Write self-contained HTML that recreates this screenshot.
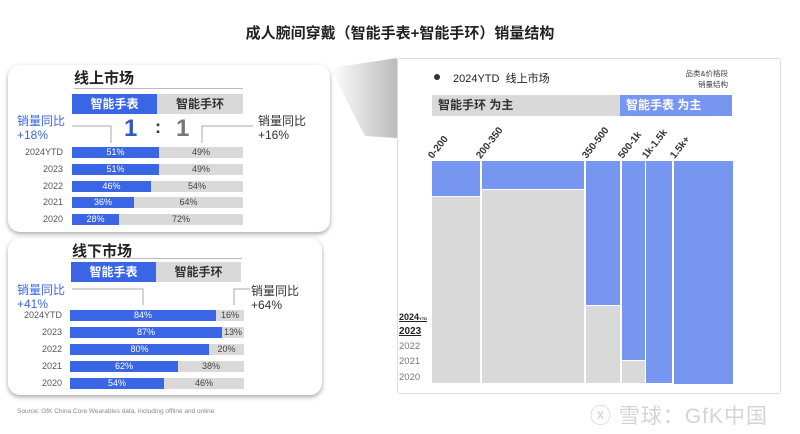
<!DOCTYPE html>
<html><head><meta charset="utf-8"><style>
*{margin:0;padding:0;box-sizing:border-box}
body{width:800px;height:434px;background:#fff;position:relative;overflow:hidden;font-family:"Liberation Sans","Noto Sans CJK SC",sans-serif;color:#333}
.a{position:absolute;white-space:nowrap}
.panel{position:absolute;background:#fff;border-radius:12px;box-shadow:0 2px 5px rgba(0,0,0,.35)}
.bar{position:absolute;height:11px;font-size:9px;line-height:11px;text-align:center}
.b{background:#3a66e6;color:#fff}
.g{background:#d9d9d9;color:#444}
.yl{position:absolute;font-size:9px;color:#555;text-align:right;width:60px}
.hd{position:absolute;font-size:12px;font-weight:bold;text-align:center;line-height:20px}
.mk{position:absolute}
.rl{position:absolute;font-size:10px;font-weight:bold;color:#333;transform:rotate(-52deg);transform-origin:left bottom}
</style></head><body>
<div class="a" style="left:0;width:800px;top:22px;text-align:center;font-size:15px;font-weight:bold;color:#222">成人腕间穿戴（智能手表+智能手环）销量结构</div>

<svg class="a" style="left:325px;top:58px" width="75" height="80"><defs><linearGradient id="gg" x1="0" x2="1"><stop offset="0" stop-color="#fff"/><stop offset="1" stop-color="#bbb"/></linearGradient></defs><polygon points="5,10 72,0 72,80 40,78" fill="url(#gg)"/></svg>

<div class="panel" style="left:8px;top:65px;width:322px;height:167px"></div>
<div class="a" style="left:74px;top:67px;font-size:15px;font-weight:bold;color:#222">线上市场</div>
<div class="a" style="left:74px;top:88px;width:169px;height:1px;background:#bbb"></div>
<div class="hd b" style="left:72px;top:94px;width:85px">智能手表</div>
<div class="hd g" style="left:157px;top:94px;width:86px;color:#333">智能手环</div>
<div class="a" style="left:124px;top:115px;font-size:24px;font-weight:bold;color:#2e58c8">1</div>
<div class="a" style="left:155px;top:117px;font-size:18px;font-weight:bold;color:#333">:</div>
<div class="a" style="left:176px;top:115px;font-size:24px;font-weight:bold;color:#777">1</div>
<div class="a" style="left:17px;top:114px;font-size:12px;line-height:14px;color:#3a66e6">销量同比<br>+18%</div>
<div class="a" style="left:258px;top:114px;font-size:12px;line-height:14px;color:#333">销量同比<br>+16%</div>
<svg class="a" style="left:0;top:0" width="340" height="240"><polyline points="72,126 111,126 111,143" fill="none" stroke="#aaa"/><polyline points="253,126 202,126 202,143" fill="none" stroke="#aaa"/></svg>
<div class="yl" style="left:3px;top:147px">2024YTD</div>
<div class="bar b" style="left:72px;top:147px;width:87px">51%</div><div class="bar g" style="left:159px;top:147px;width:84px">49%</div>
<div class="yl" style="left:3px;top:164px">2023</div>
<div class="bar b" style="left:72px;top:164px;width:87px">51%</div><div class="bar g" style="left:159px;top:164px;width:84px">49%</div>
<div class="yl" style="left:3px;top:181px">2022</div>
<div class="bar b" style="left:72px;top:181px;width:79px">46%</div><div class="bar g" style="left:151px;top:181px;width:92px">54%</div>
<div class="yl" style="left:3px;top:197px">2021</div>
<div class="bar b" style="left:72px;top:197px;width:62px">36%</div><div class="bar g" style="left:134px;top:197px;width:109px">64%</div>
<div class="yl" style="left:3px;top:214px">2020</div>
<div class="bar b" style="left:72px;top:214px;width:47px">28%</div><div class="bar g" style="left:119px;top:214px;width:124px">72%</div>

<div class="panel" style="left:8px;top:238px;width:314px;height:157px"></div>
<div class="a" style="left:72px;top:240px;font-size:15px;font-weight:bold;color:#222">线下市场</div>
<div class="a" style="left:72px;top:258px;width:170px;height:1px;background:#bbb"></div>
<div class="hd b" style="left:71px;top:262px;width:85px">智能手表</div>
<div class="hd g" style="left:156px;top:262px;width:85px;color:#333">智能手环</div>
<div class="a" style="left:17px;top:283px;font-size:12px;line-height:14px;color:#3a66e6">销量同比<br>+41%</div>
<div class="a" style="left:251px;top:284px;font-size:12px;line-height:14px;color:#333">销量同比<br>+64%</div>
<svg class="a" style="left:0;top:230px" width="340" height="100"><polyline points="72,59 143,59 143,75" fill="none" stroke="#aaa"/><polyline points="250,59 234,59 234,75" fill="none" stroke="#aaa"/></svg>
<div class="yl" style="left:2px;top:310px">2024YTD</div>
<div class="bar b" style="left:70px;top:310px;width:146px">84%</div><div class="bar g" style="left:216px;top:310px;width:28px">16%</div>
<div class="yl" style="left:2px;top:327px">2023</div>
<div class="bar b" style="left:70px;top:327px;width:152px">87%</div><div class="bar g" style="left:222px;top:327px;width:22px">13%</div>
<div class="yl" style="left:2px;top:344px">2022</div>
<div class="bar b" style="left:70px;top:344px;width:139px">80%</div><div class="bar g" style="left:209px;top:344px;width:35px">20%</div>
<div class="yl" style="left:2px;top:361px">2021</div>
<div class="bar b" style="left:70px;top:361px;width:108px">62%</div><div class="bar g" style="left:178px;top:361px;width:66px">38%</div>
<div class="yl" style="left:2px;top:378px">2020</div>
<div class="bar b" style="left:70px;top:378px;width:94px">54%</div><div class="bar g" style="left:164px;top:378px;width:80px">46%</div>
<div class="a" style="left:17px;top:408px;font-size:6.5px;color:#888">Source: GfK China Core Wearables data, including offline and online</div>

<div class="a" style="left:397px;top:58px;width:384px;height:336px;border:1px solid #ddd;border-radius:3px"></div>
<div class="a" style="left:434px;top:74px;width:6px;height:6px;border-radius:50%;background:#333"></div>
<div class="a" style="left:453px;top:70px;font-size:11px;color:#222">2024YTD&nbsp; 线上市场</div>
<div class="a" style="left:640px;top:68px;width:88px;text-align:right;font-size:7.5px;line-height:11px;color:#444">品类&amp;价格段<br>销量结构</div>
<div class="a" style="left:432px;top:95px;width:188px;height:21px;background:#d9d9d9;font-size:12px;font-weight:bold;line-height:21px;padding-left:6px;color:#333">智能手环 为主</div>
<div class="a" style="left:620px;top:95px;width:112px;height:21px;background:#7696f0;font-size:12px;font-weight:bold;line-height:21px;padding-left:6px;color:#fff">智能手表 为主</div>

<div class="mk" style="left:432px;top:161px;width:48px;height:35px;background:#7696f0"></div>
<div class="mk" style="left:432px;top:197px;width:48px;height:186px;background:#d9d9d9"></div>
<div class="mk" style="left:482px;top:161px;width:102px;height:28px;background:#7696f0"></div>
<div class="mk" style="left:482px;top:190px;width:102px;height:193px;background:#d9d9d9"></div>
<div class="mk" style="left:586px;top:161px;width:34px;height:144px;background:#7696f0"></div>
<div class="mk" style="left:586px;top:306px;width:34px;height:77px;background:#d9d9d9"></div>
<div class="mk" style="left:622px;top:161px;width:23px;height:199px;background:#7696f0"></div>
<div class="mk" style="left:622px;top:361px;width:23px;height:22px;background:#d9d9d9"></div>
<div class="mk" style="left:646px;top:161px;width:26px;height:222px;background:#7696f0"></div>
<div class="mk" style="left:674px;top:161px;width:59px;height:223px;background:#7696f0"></div>

<div class="rl" style="left:435px;top:150px">0-200</div>
<div class="rl" style="left:483px;top:150px">200-350</div>
<div class="rl" style="left:589px;top:150px">350-500</div>
<div class="rl" style="left:625px;top:150px">500-1k</div>
<div class="rl" style="left:649px;top:150px">1k-1.5k</div>
<div class="rl" style="left:677px;top:150px">1.5k+</div>

<div class="a" style="left:399px;top:312px;font-size:9px;font-weight:bold;text-decoration:underline;color:#222">2024<span style="font-size:4px">YTD</span></div>
<div class="a" style="left:399px;top:326px;font-size:10px;font-weight:bold;text-decoration:underline;color:#222">2023</div>
<div class="a" style="left:399px;top:341px;font-size:9.5px;color:#777">2022</div>
<div class="a" style="left:399px;top:356px;font-size:9.5px;color:#777">2021</div>
<div class="a" style="left:399px;top:372px;font-size:9.5px;color:#777">2020</div>

<div class="a" style="left:590px;top:400px;font-size:21px;color:#d4d4d4;letter-spacing:1px">ⓧ 雪球：GfK中国</div>
</body></html>
